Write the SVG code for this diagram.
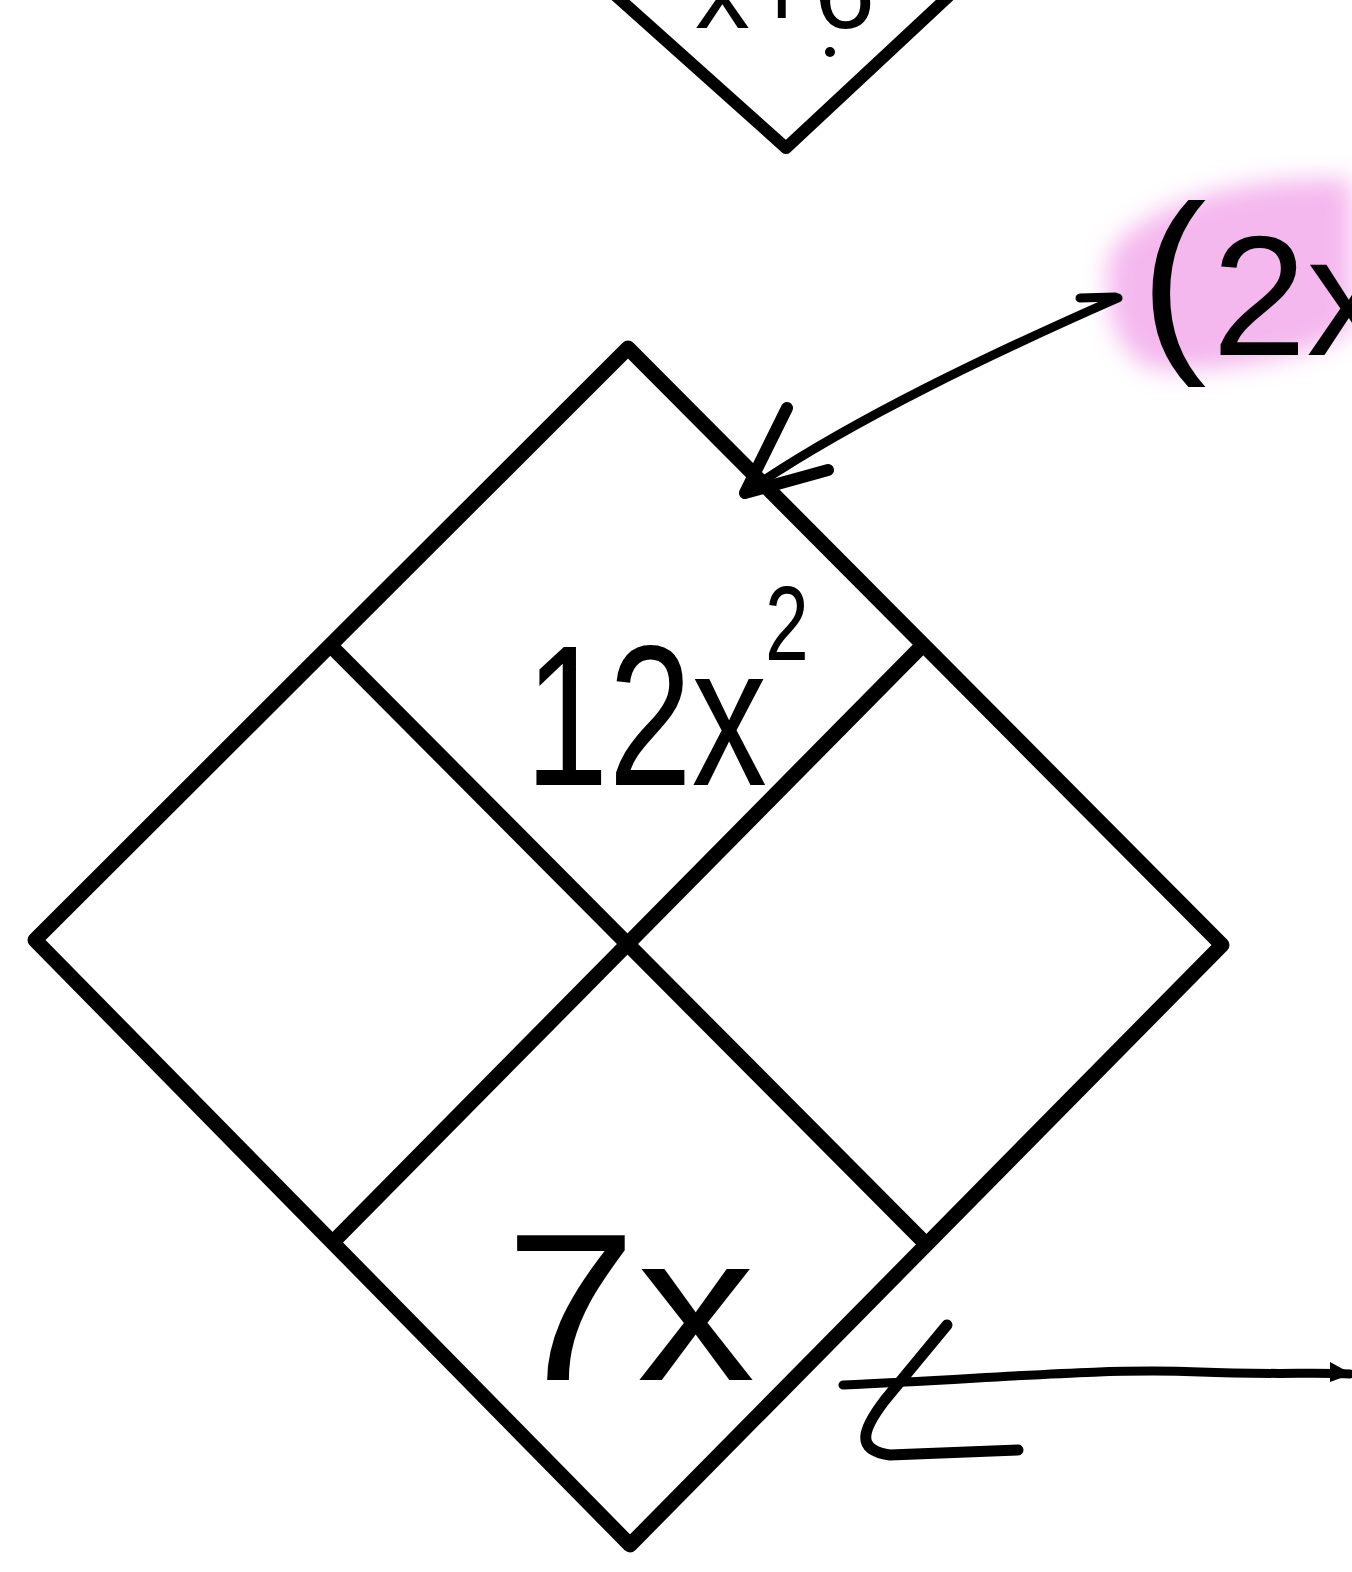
<svg xmlns="http://www.w3.org/2000/svg" width="1352" height="1572" viewBox="0 0 1352 1572">
<defs>
<style>
.ink{fill:none;stroke:#000;stroke-linecap:round;stroke-linejoin:round}
.hand{font-family:"Liberation Sans","DejaVu Sans",sans-serif;fill:#000}
</style>
<filter id="blur" x="-20%" y="-20%" width="140%" height="140%"><feGaussianBlur stdDeviation="12"/></filter>
</defs>
<rect width="1352" height="1572" fill="#fff"/>
<g id="top-diamond">
<path class="ink" d="M615,-5 L786,148 L950,-5" stroke-width="12"/>
<text class="hand" x="695" y="28" font-size="110" textLength="180" lengthAdjust="spacingAndGlyphs">x+6</text>
<circle cx="830" cy="52" r="5" fill="#000"/>
</g>
<g id="factor-2x">
<path d="M1112,250 C1150,200 1250,175 1352,180 L1352,330 C1300,360 1220,372 1160,370 C1110,360 1100,290 1112,250 Z" fill="#f2a6ea" opacity="0.8" filter="url(#blur)"/>
<text class="hand" x="1140" y="345" font-size="200">(<tspan x="1212" y="355" font-size="170">2x</tspan></text>
</g>
<g id="main-diamond">
<path class="ink" d="M628,348 L1222,945 L630,1545 L35,940 Z" stroke-width="15"/>
<line class="ink" x1="333" y1="648" x2="922" y2="1240" stroke-width="15"/>
<line class="ink" x1="918" y1="650" x2="335" y2="1240" stroke-width="15"/>
<text class="hand" transform="translate(525,785) scale(0.75,1)" x="0" y="0" font-size="200">12x<tspan x="320" y="-125" font-size="105">2</tspan></text>
<text class="hand" x="505" y="1380" font-size="210" textLength="250" lengthAdjust="spacingAndGlyphs">7x</text>
</g>
<g id="connectors">
<path class="ink" d="M1118,298 C1000,350 850,420 745,493" stroke-width="9"/>
<path class="ink" d="M787,408 L745,493 L828,470" stroke-width="12"/>
<path class="ink" d="M1080,298 L1115,297" stroke-width="9"/>
<path class="ink" d="M843,1385 C1000,1378 1100,1368 1200,1372 C1270,1375 1320,1372 1350,1374" stroke-width="9"/>
<path d="M1330,1362 L1352,1374 L1330,1382 Z" fill="#000"/>
<path class="ink" d="M947,1325 L885,1400 C862,1430 855,1450 890,1455 L1018,1450" stroke-width="11"/>
</g>
</svg>
